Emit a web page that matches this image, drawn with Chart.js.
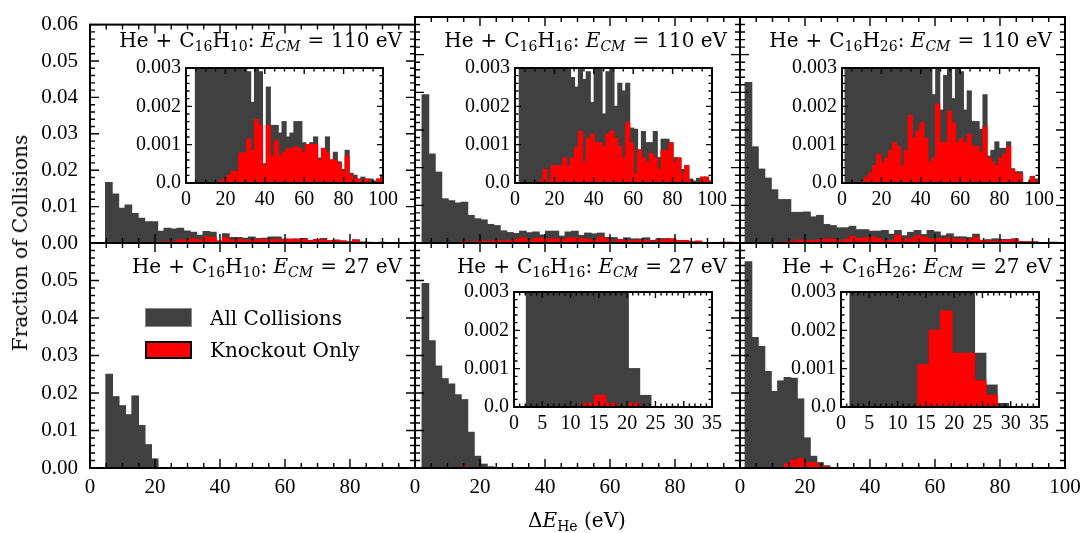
<!DOCTYPE html>
<html><head><meta charset="utf-8">
<script src="https://cdn.jsdelivr.net/npm/chart.js@4.4.0/dist/chart.umd.min.js"></script>
<style>
html,body{margin:0;padding:0;background:#fff;}
#fig{position:relative;width:1088px;height:533px;overflow:hidden;background:#fff;}
#fig canvas{position:absolute;left:0;top:0;}
.t{position:absolute;font-family:'DejaVu Serif',serif;font-size:20px;color:#000;white-space:nowrap;line-height:20px;}
.t sub{font-size:70%;vertical-align:-0.32em;line-height:0;}
.op{margin:0 7px;}
.lbox{position:absolute;box-sizing:border-box;}
</style></head><body><div id="fig"></div>
<script>
// ---------------- data ----------------
const binWidth = 2;
// lower edge of first bin for each panel (eV)
const tlStart = 4.8, tmStart = 2.2, trStart = 1.6;
const blStart = 4.9, bmStart = 2.2, brStart = 1.6;

// He + C16H10, E_CM = 110 eV
const tlAll = [0.0166,0.0134,0.0095,0.0104,0.0081,0.0068,0.0058,0.0058,0.0032,0.0040,0.0038,0.0040,0.0033,0.0029,0.0021,0.0031,0.0029,0.0005,0.0025,0.0015,0.0015,0.0013,0.0016,0.0012,0.0013,0.0016,0.0016,0.00105,0.0010,0.00105,0.0012,0.00065,0.0009,0.0012,0.0006,0.0008,0.00055,0.00035,0.00085,0.00025,0.0002,0.0001,0.00015,0.0001,0.0001,0.00005,0.0001,0.0002];
const tlKo  = [0,0,0,0,0,0,0.00005,0.0001,0.0002,0.0003,0.0003,0.00078,0.00078,0.00115,0.00085,0.00165,0.0015,0.00046,0.0015,0.0007,0.0011,0.0007,0.0008,0.0009,0.0009,0.00095,0.0009,0.0008,0.001,0.001,0.001,0.0006,0.0009,0.0008,0.0006,0.0006,0.0005,0.0003,0.0007,0.0002,0.0001,0.0001,0,0.0001,0,0,0.0001,0.0002];
// He + C16H16, E_CM = 110 eV
const tmAll = [0.0393,0.0236,0.0188,0.0117,0.0112,0.0106,0.0108,0.0073,0.0064,0.0061,0.0049,0.0046,0.0032,0.00275,0.0025,0.0031,0.0027,0.0029,0.0021,0.0031,0.0031,0.0018,0.0029,0.0031,0.0020,0.0026,0.0024,0.0026,0.00143,0.0014,0.00086,0.00134,0.00105,0.00105,0.00134,0.00066,0.00114,0.00114,0.00105,0.00066,0.00065,0.00035,0.00045,0.0001,0.00005,0.00012,0.00015,0.00015,0.00005];
const tmKo  = [0,0,0,0,0,0.00005,0.00035,0.00004,0.00045,0.00045,0.00045,0.00065,0.00045,0.00065,0.00093,0.00135,0.00054,0.00116,0.00127,0.00105,0.00105,0.00095,0.00127,0.00135,0.00116,0.00095,0.00065,0.00157,0.00104,0.00024,0.00086,0.00065,0.00054,0.00077,0.00065,0.00035,0.00084,0.00084,0.00104,0.00054,0.00065,0.00024,0.00045,0.00006,0,0,0.00015,0.00015,0.00005];
// He + C16H26, E_CM = 110 eV
const trAll = [0.0426,0.0255,0.0196,0.0172,0.0141,0.0115,0.0115,0.0081,0.0081,0.0082,0.0069,0.0073,0.0049,0.0046,0.0040,0.0040,0.0044,0.0035,0.0035,0.0031,0.0031,0.0033,0.0023,0.0033,0.0019,0.0028,0.0033,0.0022,0.0033,0.0029,0.0019,0.0024,0.0016,0.0016,0.0014,0.0023,0.0007,0.00085,0.00107,0.0009,0.0009,0.00107,0.00037,0.00029,0.00029,0,0,0.00017,0.0001];
const trKo  = [0,0,0,0,0.00004,0.00015,0.00026,0.00045,0.00075,0.00054,0.00065,0.00084,0.00105,0.00095,0.00045,0.00084,0.00176,0.00116,0.00135,0.00157,0.00116,0.00054,0.00065,0.00206,0.00105,0.00105,0.00187,0.00157,0.00105,0.00116,0.00105,0.00127,0.00096,0.00095,0.0008,0.00146,0.00065,0.00054,0.00045,0.00065,0.00075,0.00095,0.00035,0.00024,0.00024,0,0,0.00015,0.00006];
// E_CM = 27 eV
const blAll = [0.0250,0.0190,0.0166,0.0142,0.0192,0.0113,0.0062,0.0024];
const blKo  = [0,0,0,0,0,0,0,0];
const bmAll = [0.0492,0.0339,0.0272,0.0238,0.0224,0.0195,0.0182,0.0095,0.0031,0.0010,0.0003];
const bmKo  = [0,0,0,0,0,0.00009,0.0003,0.00009,0,0.00009,0];
const brAll = [0.0550,0.0348,0.0324,0.0257,0.0204,0.0232,0.0241,0.0239,0.0184,0.0080,0.0031,0.0014,0.00057,0.00009];
const brKo  = [0,0,0,0,0,0,0.0011,0.0020,0.0025,0.0014,0.0014,0.00068,0.0003,0];

// tick labels
const mainYTicks = ['0.00','0.01','0.02','0.03','0.04','0.05','0.06'];
const mainXTicks = ['0','20','40','60','80','100'];
const insetYTicks = ['0.0','0.001','0.002','0.003'];
const insetXTicksWide = ['0','20','40','60','80','100'];
const insetXTicksNarrow = ['0','5','10','15','20','25','30','35'];

// texts
const seriesNames = ['All Collisions','Knockout Only'];
const targets = ['C<sub>16</sub>H<sub>10</sub>','C<sub>16</sub>H<sub>16</sub>','C<sub>16</sub>H<sub>26</sub>'];
const energies = ['110','27'];

// ---------------- drawing ----------------
const W = 1088, H = 533;
const fig = document.getElementById('fig');
const NUMFONT = "'Liberation Serif','Times New Roman',serif";
const DARK = '#404040', RED = '#ff0000';

const inwardTicks = {
  id: 'inwardTicks',
  beforeDraw(chart, args, o) {
    if (!o.whiteBg) return;
    const a = chart.chartArea, ctx = chart.ctx;
    ctx.save(); ctx.fillStyle = '#fff'; ctx.fillRect(a.left, a.top, a.width, a.height); ctx.restore();
  },
  afterDatasetsDraw(chart, args, o) {
    const {ctx, chartArea: a} = chart;
    const x = chart.scales.x, y = chart.scales.y;
    ctx.save();
    ctx.strokeStyle = '#000';
    ctx.lineWidth = o.tickWidth;
    const each = (min, max, step, fn) => { const n = Math.round((max - min) / step); for (let i = 0; i <= n; i++) fn(min + i * step); };
    const isMajor = (v, m) => Math.abs(v / m - Math.round(v / m)) < 1e-6;
    each(x.min, x.max, o.xMinor, v => {
      const len = isMajor(v, o.xMajor) ? o.majorLen : o.minorLen;
      const px = x.getPixelForValue(v);
      ctx.beginPath();
      ctx.moveTo(px, a.bottom); ctx.lineTo(px, a.bottom - len);
      ctx.moveTo(px, a.top); ctx.lineTo(px, a.top + len);
      ctx.stroke();
    });
    each(y.min, y.max, o.yMinor, v => {
      const len = isMajor(v, o.yMajor) ? o.majorLen : o.minorLen;
      const py = y.getPixelForValue(v);
      ctx.beginPath();
      ctx.moveTo(a.left, py); ctx.lineTo(a.left + len, py);
      ctx.moveTo(a.right, py); ctx.lineTo(a.right - len, py);
      ctx.stroke();
    });
    ctx.lineWidth = o.frameWidth;
    ctx.strokeRect(a.left, a.top, a.right - a.left, a.bottom - a.top);
    ctx.restore();
  }
};

function panel(p) {
  const cv = document.createElement('canvas');
  cv.width = W; cv.height = H;
  cv.style.width = W + 'px'; cv.style.height = H + 'px';
  fig.appendChild(cv);
  const center = i => p.start + binWidth * (i + 0.5);
  const pts = arr => arr.map((v, i) => ({x: center(i), y: v}));
  const common = {grouped: false, barPercentage: 1, categoryPercentage: 1, borderWidth: 0, inflateAmount: 0.6};
  return new Chart(cv, {
    type: 'bar',
    data: {datasets: [
      Object.assign({label: seriesNames[1], data: pts(p.ko), backgroundColor: RED, order: 0}, common),
      Object.assign({label: seriesNames[0], data: pts(p.all), backgroundColor: DARK, order: 1}, common)
    ]},
    options: {
      responsive: false, animation: false, devicePixelRatio: 1,
      layout: {padding: {left: p.L - p.yw, right: W - p.R, top: p.T, bottom: H - p.B - p.xh}},
      plugins: {
        legend: {display: false}, tooltip: {enabled: false},
        inwardTicks: {whiteBg: !!p.inset, tickWidth: 1.4, frameWidth: 2,
          majorLen: p.inset ? 6 : 9, minorLen: p.inset ? 3.5 : 5,
          xMajor: p.xStep, xMinor: p.xMinor, yMajor: p.yStep, yMinor: p.yMinor}
      },
      scales: {
        x: {type: 'linear', min: 0, max: p.xmax, offset: false,
            grid: {display: false, drawTicks: false}, border: {display: false},
            ticks: {display: p.xh > 0, stepSize: p.xStep, autoSkip: false, maxRotation: 0, minRotation: 0,
                    padding: p.xPad || 6, color: '#000', font: {family: NUMFONT, size: p.fs},
                    callback: v => p.xLabel(v)},
            afterFit: s => { s.height = p.xh; }},
        y: {type: 'linear', min: 0, max: p.ymax,
            grid: {display: false, drawTicks: false}, border: {display: false},
            ticks: {display: p.yw > 0, stepSize: p.yStep, autoSkip: false, padding: p.yPad || 8,
                    color: '#000', font: {family: NUMFONT, size: p.fs},
                    callback: v => p.yLabel(v)},
            afterFit: s => { s.width = p.yw; }}
      }
    },
    plugins: [inwardTicks]
  });
}

const idx = (v, step) => Math.round(v / step);
const mainY = hideTop => v => { const i = idx(v, 0.01); return (hideTop && i === 6) ? '' : (mainYTicks[i] || ''); };
const mainX = hideLast => v => { const i = idx(v, 20); return (hideLast && i === 5) ? '' : (mainXTicks[i] || ''); };
const none = () => '';

const mainBase = {xmax: 100, ymax: 0.06, xStep: 20, xMinor: 5, yStep: 0.01, yMinor: 0.002, fs: 21};
const cols = [[90, 415], [415, 740], [740, 1065]];
const rows = [[17, 243], [243, 468]];
const mainSpecs = [
  {c: 0, r: 0, start: tlStart, all: tlAll, ko: tlKo},
  {c: 1, r: 0, start: tmStart, all: tmAll, ko: tmKo},
  {c: 2, r: 0, start: trStart, all: trAll, ko: trKo},
  {c: 0, r: 1, start: blStart, all: blAll, ko: blKo},
  {c: 1, r: 1, start: bmStart, all: bmAll, ko: bmKo},
  {c: 2, r: 1, start: brStart, all: brAll, ko: brKo}
];
mainSpecs.forEach(s => {
  panel(Object.assign({}, mainBase, s, {
    L: cols[s.c][0], R: cols[s.c][1], T: rows[s.r][0], B: rows[s.r][1],
    yw: s.c === 0 ? 90 : 0, xh: s.r === 1 ? 40 : 0, yPad: 12, xPad: 7,
    yLabel: s.c === 0 ? mainY(s.r === 1) : none,
    xLabel: s.r === 1 ? mainX(s.c < 2) : none
  }));
});

const insetWideBase = {inset: true, xmax: 100, ymax: 0.003, xStep: 20, xMinor: 5, yStep: 0.001, yMinor: 0.0002, fs: 20,
  yw: 60, xh: 30, yPad: 5, xPad: 5,
  yLabel: v => insetYTicks[idx(v, 0.001)] || '', xLabel: v => insetXTicksWide[idx(v, 20)] || ''};
const insetNarrowBase = Object.assign({}, insetWideBase, {xmax: 35, xStep: 5, xMinor: 1,
  xLabel: v => insetXTicksNarrow[idx(v, 5)] || ''});
[
  Object.assign({}, insetWideBase, {L: 186, R: 383, T: 68, B: 183, start: tlStart, all: tlAll, ko: tlKo}),
  Object.assign({}, insetWideBase, {L: 515, R: 712, T: 68, B: 183, start: tmStart, all: tmAll, ko: tmKo}),
  Object.assign({}, insetWideBase, {L: 842, R: 1039, T: 68, B: 183, start: trStart, all: trAll, ko: trKo}),
  Object.assign({}, insetNarrowBase, {L: 514, R: 712, T: 292, B: 407, start: bmStart, all: bmAll, ko: bmKo}),
  Object.assign({}, insetNarrowBase, {L: 841, R: 1039, T: 292, B: 407, start: brStart, all: brAll, ko: brKo})
].forEach(panel);

// ---------------- text overlays ----------------
function addText(html, style) {
  const d = document.createElement('div');
  d.className = 't'; d.innerHTML = html;
  Object.assign(d.style, style);
  fig.appendChild(d);
  return d;
}
rows.forEach((row, r) => cols.forEach((col, c) => {
  const html = 'He<span class="op">+</span>' + targets[c] + ': <i>E</i><sub><i>CM</i></sub><span class="op">=</span>' + energies[r] + ' eV';
  addText(html, {right: (W - col[1] + 13) + 'px', top: (r === 0 ? 30 : 256) + 'px'});
}));
addText('Fraction of Collisions', {left: '20px', top: '243px', transform: 'translate(-50%,-50%) rotate(-90deg)'});
addText('&Delta;<i>E</i><sub>He</sub> (eV)', {left: '577px', top: '510px', transform: 'translateX(-50%)'});

// legend (in lower-left panel)
const lb1 = document.createElement('div'); lb1.className = 'lbox';
Object.assign(lb1.style, {left: '145px', top: '308px', width: '47px', height: '19px', background: DARK, border: '1px solid #8a8a8a'});
fig.appendChild(lb1);
const lb2 = document.createElement('div'); lb2.className = 'lbox';
Object.assign(lb2.style, {left: '145px', top: '341px', width: '47px', height: '18px', background: RED, border: '2px solid #000'});
fig.appendChild(lb2);
addText(seriesNames[0], {left: '210px', top: '308px'});
addText(seriesNames[1], {left: '210px', top: '340px'});
</script>
</body></html>
